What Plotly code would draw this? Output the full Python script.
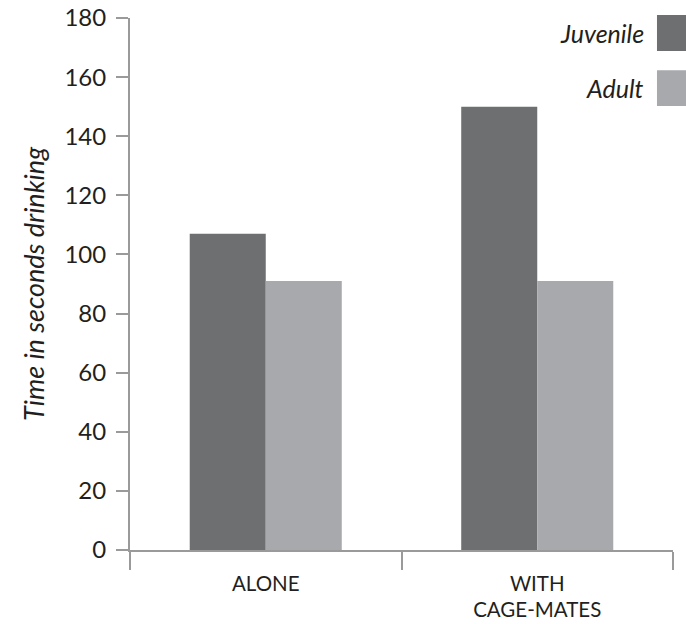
import plotly.graph_objects as go

categories = ["ALONE", "WITH<br>CAGE-MATES"]
series_names = ["Juvenile", "Adult"]
juvenile = [107, 150]
adult = [91, 91]
y_ticks = [0, 20, 40, 60, 80, 100, 120, 140, 160, 180]

colors = ["#6d6f71", "#a7a9ac"]
axis_color = "#9a9a9a"
font_family = "Lato, 'Open Sans', sans-serif"

fig = go.Figure()
for name, vals, col in zip(series_names, [juvenile, adult], colors):
    fig.add_trace(go.Bar(x=categories, y=vals, name=name, marker=dict(color=col, line=dict(width=0)),
                         showlegend=False))

fig.update_layout(
    width=686, height=624,
    margin=dict(l=130, r=13, t=18, b=74),
    paper_bgcolor="white", plot_bgcolor="white",
    barmode="group", bargap=0.44, bargroupgap=0,
    font=dict(family=font_family, color="#231f20"),
)
fig.update_yaxes(
    range=[0, 180], tickvals=y_ticks, ticks="outside", ticklen=12, tickwidth=2,
    tickcolor=axis_color, showline=True, linecolor=axis_color, linewidth=2,
    showgrid=False, zeroline=False, tickfont=dict(size=24, color="#231f20"),
    ticklabelstandoff=5, automargin=False,
    title=dict(text="<i>Time in seconds drinking</i>", font=dict(size=27, color="#231f20"), standoff=12),
)
fig.update_xaxes(
    ticks="outside", tickson="boundaries", ticklen=18, tickwidth=2, tickcolor=axis_color,
    showline=True, linecolor=axis_color, linewidth=2, showgrid=False,
    tickfont=dict(size=20.5, color="#231f20"), automargin=False, ticklabelstandoff=14,
)

# custom legend: text to the left of the swatch
legend_rows = [(1.0056, 0.938), (0.902, 0.8346)]
for name, col, (ytop, ybot) in zip(series_names, colors, legend_rows):
    fig.add_shape(type="rect", xref="paper", yref="paper", x0=0.9705, x1=1.03, y0=ybot, y1=ytop,
                  fillcolor=col, line=dict(width=0))
    fig.add_annotation(xref="paper", yref="paper", x=0.951, y=(ytop + ybot) / 2,
                       xanchor="right", yanchor="middle", showarrow=False,
                       text=f"<i>{name}</i>", font=dict(size=25, color="#231f20"))

fig.write_html("out.html", config={"displayModeBar": False},
               post_script="document.body.style.margin='0';")
